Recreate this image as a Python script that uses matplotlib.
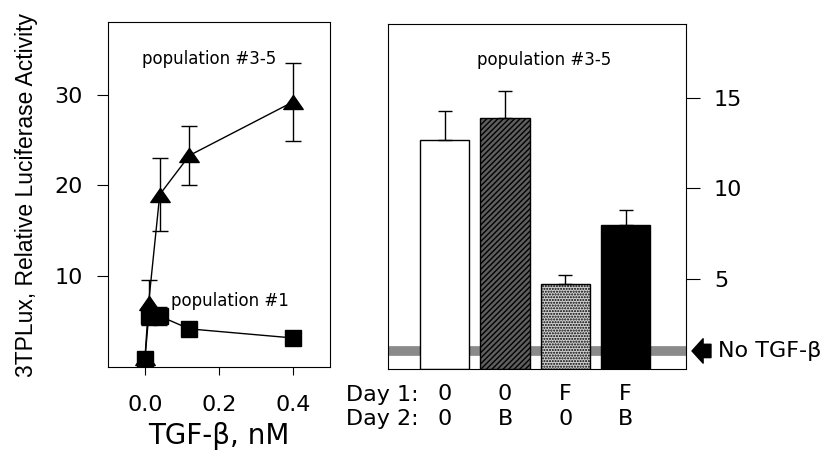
import matplotlib
matplotlib.use('Agg')
import matplotlib.pyplot as plt
from matplotlib.path import Path

plt.rcParams['font.family'] = ['DejaVu Sans']

# left panel: dose response
dose = [0.0, 0.01, 0.04, 0.12, 0.4]
act_35 = [1.0, 7.1, 19.0, 23.3, 29.2]
err_35 = [0.0, 2.5, 4.0, 3.3, 4.3]
act_1 = [0.9, 5.6, 5.6, 4.2, 3.2]
err_1 = [0.0, 0.6, 1.0, 0.3, 0.3]

# right panel: bars
day1 = ['0', '0', 'F', 'F']
day2 = ['0', 'B', '0', 'B']
bar_vals = [12.7, 13.9, 4.7, 8.0]
bar_errs = [1.6, 1.5, 0.5, 0.8]
bar_colors = ['white', '#5e5e5e', '#cfcfcf', 'black']
bar_hatch = [None, '//////', '......', None]
no_tgf = 1.0

# wide triangle like the scanned figure
tri = Path([(-1, -0.72), (1, -0.72), (0, 0.72), (-1, -0.72)],
           [Path.MOVETO, Path.LINETO, Path.LINETO, Path.CLOSEPOLY])

fig = plt.figure(figsize=(8.35, 4.54), dpi=100)
ax1 = fig.add_axes([0.1293, 0.1916, 0.2659, 0.7599])
ax2 = fig.add_axes([0.4647, 0.1872, 0.3569, 0.7599])

ax1.errorbar(dose, act_35, yerr=err_35, color='black', marker=tri, markersize=14,
             lw=1, capsize=6, elinewidth=1)
ax1.errorbar(dose, act_1, yerr=err_1, color='black', marker='s', markersize=11,
             lw=1, capsize=5, elinewidth=1)
ax1.set_xlim(-0.1, 0.5)
ax1.set_ylim(0, 38)
ax1.set_xticks([0.0, 0.2, 0.4])
ax1.set_xticklabels(['0.0', '0.2', '0.4'])
ax1.set_yticks([10, 20, 30])
ax1.tick_params(axis='x', direction='out', length=6, labelsize=16, pad=14)
ax1.tick_params(axis='y', direction='out', length=8, labelsize=16, pad=10)
ax1.set_xlabel('TGF-β, nM', fontsize=20, labelpad=5)
ax1.set_ylabel('3TPLux, Relative Luciferase Activity', fontsize=16.5, labelpad=12,
               family=['Liberation Sans', 'DejaVu Sans'])
ax1.text(0.173, 33.9, 'population #3-5', fontsize=12, ha='center', va='center')
ax1.text(0.07, 7.3, 'population #1', fontsize=12, ha='left', va='center')

x = list(range(len(bar_vals)))
ax2.axhline(no_tgf, xmin=0.012, xmax=0.985, color='#8a8a8a', lw=7, zorder=1)
for i in x:
    ax2.bar(i, bar_vals[i], width=0.82, color=bar_colors[i], edgecolor='black',
            hatch=bar_hatch[i], lw=1, zorder=2)
ax2.errorbar(x, bar_vals, yerr=[[0] * 4, bar_errs], fmt='none', ecolor='black',
             capsize=5, elinewidth=1, zorder=3)
ax2.set_xlim(-0.94, 4.0)
ax2.set_ylim(0, 19.1)
ax2.yaxis.tick_right()
ax2.set_yticks([5, 10, 15])
ax2.tick_params(axis='y', direction='out', length=10, labelsize=16, pad=10)
ax2.set_xticks(x)
ax2.set_xticklabels([a + '\n' + b for a, b in zip(day1, day2)], fontsize=16,
                    linespacing=1.3)
ax2.tick_params(axis='x', length=0, pad=11)
ax2.text(-0.44, -0.045, 'Day 1:\nDay 2:', transform=ax2.get_xaxis_transform(),
         fontsize=16, ha='right', va='top', linespacing=1.3)
ax2.text(1.64, 17.1, 'population #3-5', fontsize=12, ha='center', va='center')
ax2.annotate('No TGF-β', xy=(1.02, no_tgf), xycoords=('axes fraction', 'data'),
             xytext=(1.107, no_tgf), textcoords=('axes fraction', 'data'),
             fontsize=16, va='center', ha='left', annotation_clip=False,
             arrowprops=dict(arrowstyle='simple,head_width=1.1,head_length=0.5,tail_width=0.6',
                             color='black', shrinkA=3, shrinkB=0))

fig.savefig('out.png', dpi=100)
